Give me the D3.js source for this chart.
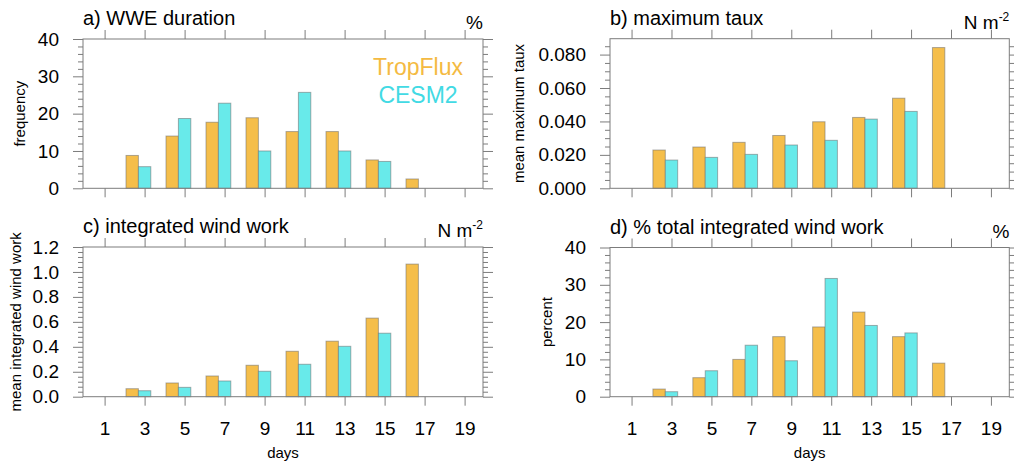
<!DOCTYPE html>
<html>
<head>
<meta charset="utf-8">
<script src="https://cdn.jsdelivr.net/npm/d3@7"></script>
<style>
  html, body { margin: 0; padding: 0; background: #fff; }
  svg { display: block; font-family: "Liberation Sans", Arial, Helvetica, sans-serif; }
</style>
</head>
<body>
<svg id="chart" width="1014" height="462"></svg>
<script>
// ---------------- DATA ----------------
const days = [1, 3, 5, 7, 9, 11, 13, 15, 17, 19];
const xTickLabels = ["1", "3", "5", "7", "9", "11", "13", "15", "17", "19"];
const seriesNames = ["TropFlux", "CESM2"];

// a) WWE duration (frequency, %)
const durationTropFlux = [0, 8.8, 14.0, 17.7, 18.9, 15.2, 15.2, 7.6, 2.5, 0];
const durationCESM2    = [0, 5.8, 18.7, 22.8, 10.0, 25.7, 10.0, 7.2, 0, 0];
// b) maximum taux (N m-2)
const tauxTropFlux = [0, 0.0229, 0.0247, 0.0275, 0.0316, 0.0398, 0.0424, 0.0539, 0.0842, 0];
const tauxCESM2    = [0, 0.0169, 0.0185, 0.0203, 0.0259, 0.0287, 0.0414, 0.0460, 0, 0];
// c) integrated wind work (N m-2)
const iwwTropFlux = [0, 0.064, 0.110, 0.166, 0.252, 0.364, 0.445, 0.630, 1.063, 0];
const iwwCESM2    = [0, 0.048, 0.075, 0.126, 0.204, 0.260, 0.404, 0.509, 0, 0];
// d) % total integrated wind work
const pctTropFlux = [0, 2.05, 5.1, 10.0, 16.1, 18.7, 22.7, 16.1, 9.0, 0];
const pctCESM2    = [0, 1.34, 6.96, 13.8, 9.64, 31.7, 19.1, 17.1, 0, 0];

// y-axis tick values
const yTicksA = [0, 10, 20, 30, 40];
const yTickLabelsA = ["0", "10", "20", "30", "40"];
const yTicksB = [0, 0.02, 0.04, 0.06, 0.08];
const yTickLabelsB = ["0.000", "0.020", "0.040", "0.060", "0.080"];
const yTicksC = [0, 0.2, 0.4, 0.6, 0.8, 1.0, 1.2];
const yTickLabelsC = ["0.0", "0.2", "0.4", "0.6", "0.8", "1.0", "1.2"];
const yTicksD = [0, 10, 20, 30, 40];
const yTickLabelsD = ["0", "10", "20", "30", "40"];

// ---------------- STYLE / LAYOUT ----------------
const colors = { TropFlux: "#F5BE4A", CESM2: "#68EAEA" };
const legendColors = { TropFlux: "#F4BA42", CESM2: "#42DAE4" };
const axisColor = "#7c7c7c";

const svg = d3.select("#chart");

const panels = [
  { left: 83, right: 483, top: 39, bottom: 188.3, title: "a) WWE duration", unit: "%", unitSup: null,
    ylabel: "frequency", ylabelX: 19, domain: [0, 40], ticks: yTicksA, tickLabels: yTickLabelsA, minorStep: 2,
    trop: durationTropFlux, cesm: durationCESM2, xLabels: false, legend: true },
  { left: 610, right: 1009.3, top: 38.7, bottom: 188.3, title: "b) maximum taux", unit: "N m", unitSup: "-2",
    ylabel: "mean maximum taux", ylabelX: 518, domain: [0, 0.0895], ticks: yTicksB, tickLabels: yTickLabelsB, minorStep: 0.005,
    trop: tauxTropFlux, cesm: tauxCESM2, xLabels: false, legend: false },
  { left: 83, right: 483, top: 247, bottom: 396.7, title: "c) integrated wind work", unit: "N m", unitSup: "-2",
    ylabel: "mean integrated wind work", ylabelX: 15, domain: [0, 1.2], ticks: yTicksC, tickLabels: yTickLabelsC, minorStep: 0.04,
    trop: iwwTropFlux, cesm: iwwCESM2, xLabels: true, legend: false },
  { left: 610, right: 1009.3, top: 247.5, bottom: 396.7, title: "d) % total integrated wind work", unit: "%", unitSup: null,
    ylabel: "percent", ylabelX: 546, domain: [0, 40], ticks: yTicksD, tickLabels: yTickLabelsD, minorStep: 2,
    trop: pctTropFlux, cesm: pctCESM2, xLabels: true, legend: false }
];

function drawPanel(p) {
  const g = svg.append("g");
  const x = d3.scaleLinear().domain([-0.08, 19.92]).range([p.left, p.right]);
  const y = d3.scaleLinear().domain(p.domain).range([p.bottom, p.top]);

  // minor tick values
  const minor = d3.range(0, p.domain[1] + 1e-9, p.minorStep)
    .filter(v => !p.ticks.some(t => Math.abs(t - v) < 1e-9));

  const styleAxis = sel => {
    sel.select(".domain").remove();
    sel.selectAll("line").attr("stroke", axisColor).attr("stroke-width", 1);
    sel.selectAll("text").attr("fill", "#000");
  };

  // bars
  const barData = [];
  days.forEach((d, i) => {
    barData.push({ day: d, v: p.trop[i], s: "TropFlux", x0: d - 0.93, x1: d - 0.31 });
    barData.push({ day: d, v: p.cesm[i], s: "CESM2", x0: d - 0.31, x1: d + 0.31 });
  });
  g.append("g").selectAll("rect").data(barData.filter(b => b.v > 0)).join("rect")
    .attr("x", b => x(b.x0))
    .attr("width", b => x(b.x1) - x(b.x0))
    .attr("y", b => y(b.v))
    .attr("height", b => y(0) - y(b.v))
    .attr("fill", b => colors[b.s])
    .attr("stroke", "rgba(110,110,110,0.55)")
    .attr("stroke-width", 1);

  // Left axis major
  g.append("g").attr("transform", `translate(${p.left},0)`)
    .call(d3.axisLeft(y).tickValues(p.ticks).tickSize(10).tickPadding(14)
      .tickFormat((d, i) => p.tickLabels[i]))
    .call(styleAxis)
    .call(s => s.selectAll("text").attr("font-size", 19).attr("font-family", "Liberation Sans, Arial, sans-serif"));
  // Left minor
  g.append("g").attr("transform", `translate(${p.left},0)`)
    .call(d3.axisLeft(y).tickValues(minor).tickSize(5).tickFormat(""))
    .call(styleAxis);
  // Right axis
  g.append("g").attr("transform", `translate(${p.right},0)`)
    .call(d3.axisRight(y).tickValues(p.ticks).tickSize(10).tickFormat(""))
    .call(styleAxis);
  g.append("g").attr("transform", `translate(${p.right},0)`)
    .call(d3.axisRight(y).tickValues(minor).tickSize(5).tickFormat(""))
    .call(styleAxis);
  // Top axis
  g.append("g").attr("transform", `translate(0,${p.top})`)
    .call(d3.axisTop(x).tickValues(days).tickSize(9).tickFormat(""))
    .call(styleAxis);
  // Bottom axis
  g.append("g").attr("transform", `translate(0,${p.bottom})`)
    .call(d3.axisBottom(x).tickValues(days).tickSize(9).tickPadding(16)
      .tickFormat((d, i) => p.xLabels ? xTickLabels[i] : ""))
    .call(styleAxis)
    .call(s => s.selectAll("text").attr("font-size", 19).attr("font-family", "Liberation Sans, Arial, sans-serif"));

  // frame
  g.append("rect")
    .attr("x", p.left).attr("y", p.top)
    .attr("width", p.right - p.left).attr("height", p.bottom - p.top)
    .attr("fill", "none").attr("stroke", axisColor).attr("stroke-width", 1);

  // title
  g.append("text").attr("x", p.left).attr("y", p.top - 14)
    .attr("font-size", 20).attr("fill", "#000").text(p.title);

  // unit
  const u = g.append("text").attr("x", p.right).attr("y", p.top - 10)
    .attr("text-anchor", "end").attr("font-size", 19).attr("fill", "#000");
  u.append("tspan").text(p.unit);
  if (p.unitSup) {
    u.append("tspan").attr("font-size", 12).attr("dy", -8).text(p.unitSup);
  }

  // y label
  const cy = (p.top + p.bottom) / 2;
  g.append("text")
    .attr("transform", `translate(${p.ylabelX},${cy}) rotate(-90)`)
    .attr("text-anchor", "middle").attr("dominant-baseline", "central")
    .attr("font-size", 15).attr("fill", "#000").text(p.ylabel);

  // x label
  if (p.xLabels) {
    g.append("text").attr("x", (p.left + p.right) / 2).attr("y", 457.5)
      .attr("text-anchor", "middle").attr("font-size", 15).attr("fill", "#000").text("days");
  }

  // legend
  if (p.legend) {
    const legY = [75, 103];
    seriesNames.forEach((name, i) => {
      g.append("text").attr("x", 418).attr("y", legY[i])
        .attr("text-anchor", "middle").attr("font-size", 23)
        .attr("fill", legendColors[name]).text(name);
    });
  }
}

panels.forEach(drawPanel);
</script>
</body>
</html>
